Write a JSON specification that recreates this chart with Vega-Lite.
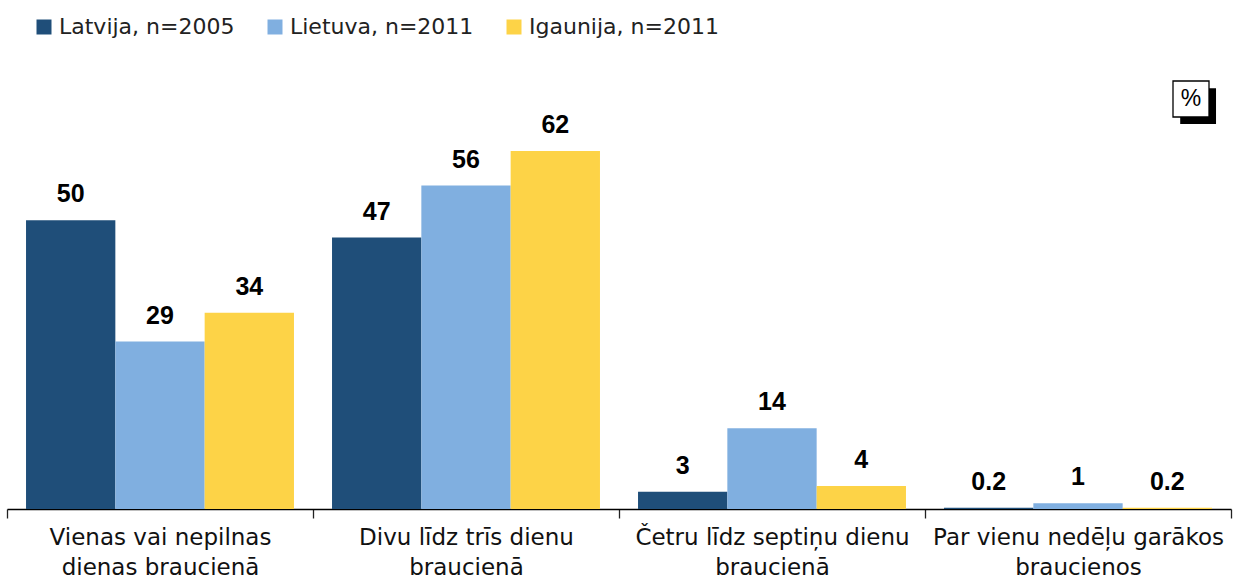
{
  "$schema": "https://vega.github.io/schema/vega-lite/v6.json",
  "width": 1224,
  "height": 462,
  "autosize": {"type": "none"},
  "padding": {"left": 7, "top": 47, "right": 11, "bottom": 73},
  "background": "white",
  "config": {"view": {"stroke": null}, "font": "DejaVu Sans"},
  "datasets": {
    "bars": [
      {"cat": "Vienas vai nepilnas|dienas braucienā", "series": "Latvija, n=2005", "value": 50, "label": "50"},
      {"cat": "Vienas vai nepilnas|dienas braucienā", "series": "Lietuva, n=2011", "value": 29, "label": "29"},
      {"cat": "Vienas vai nepilnas|dienas braucienā", "series": "Igaunija, n=2011", "value": 34, "label": "34"},
      {"cat": "Divu līdz trīs dienu|braucienā", "series": "Latvija, n=2005", "value": 47, "label": "47"},
      {"cat": "Divu līdz trīs dienu|braucienā", "series": "Lietuva, n=2011", "value": 56, "label": "56"},
      {"cat": "Divu līdz trīs dienu|braucienā", "series": "Igaunija, n=2011", "value": 62, "label": "62"},
      {"cat": "Četru līdz septiņu dienu|braucienā", "series": "Latvija, n=2005", "value": 3, "label": "3"},
      {"cat": "Četru līdz septiņu dienu|braucienā", "series": "Lietuva, n=2011", "value": 14, "label": "14"},
      {"cat": "Četru līdz septiņu dienu|braucienā", "series": "Igaunija, n=2011", "value": 4, "label": "4"},
      {"cat": "Par vienu nedēļu garākos|braucienos", "series": "Latvija, n=2005", "value": 0.2, "label": "0.2"},
      {"cat": "Par vienu nedēļu garākos|braucienos", "series": "Lietuva, n=2011", "value": 1, "label": "1"},
      {"cat": "Par vienu nedēļu garākos|braucienos", "series": "Igaunija, n=2011", "value": 0.2, "label": "0.2"}
    ],
    "unit": [
      {"cat": "Par vienu nedēļu garākos|braucienos", "value": 71, "label": "%"}
    ]
  },
  "layer": [
    {
      "data": {"name": "bars"},
      "mark": {"type": "bar"},
      "encoding": {
        "x": {
          "field": "cat", "type": "nominal", "sort": null,
          "scale": {"paddingInner": 0, "paddingOuter": 0},
          "axis": {
            "title": null, "labelAngle": 0,
            "labelExpr": "split(datum.label, '|')",
            "labelFont": "DejaVu Sans",
            "labelFontSize": 23, "labelColor": "#111", "labelLineHeight": 30,
            "labelPadding": 8, "labelBaseline": "top",
            "domainColor": "#000", "domainWidth": 1.3,
            "tickColor": "#222", "tickSize": 9, "tickBand": "extent", "tickWidth": 1.3,
            "labelLimit": 400
          }
        },
        "xOffset": {
          "field": "series", "type": "nominal", "sort": ["Latvija, n=2005", "Lietuva, n=2011", "Igaunija, n=2011"],
          "scale": {"paddingInner": 0, "paddingOuter": 0.213}
        },
        "y": {
          "field": "value", "type": "quantitative",
          "scale": {"domain": [0, 80], "nice": false},
          "axis": null
        },
        "color": {
          "field": "series", "type": "nominal", "sort": ["Latvija, n=2005", "Lietuva, n=2011", "Igaunija, n=2011"],
          "scale": {"range": ["#1F4E79", "#80AFE0", "#FDD347"]},
          "legend": {
            "title": null, "orient": "none", "direction": "horizontal",
            "legendX": 26, "legendY": -31,
            "symbolType": "square", "symbolSize": 225, "symbolStrokeWidth": 0,
            "labelFont": "DejaVu Sans",
            "labelFontSize": 22, "labelColor": "#222", "labelOffset": 4,
            "columnPadding": 29, "labelLimit": 300
          }
        }
      }
    },
    {
      "data": {"name": "bars"},
      "mark": {"type": "text", "baseline": "alphabetic", "dy": -18, "font": "Liberation Sans", "fontSize": 25, "fontWeight": "bold", "color": "#000"},
      "encoding": {
        "x": {"field": "cat", "type": "nominal", "sort": null},
        "xOffset": {"field": "series", "type": "nominal", "sort": ["Latvija, n=2005", "Lietuva, n=2011", "Igaunija, n=2011"]},
        "y": {"field": "value", "type": "quantitative"},
        "text": {"field": "label"}
      }
    },
    {
      "data": {"name": "unit"},
      "mark": {"type": "point", "shape": "M -0.6 -0.6 H 1.39 V 1.39 H -0.6 Z", "filled": true, "color": "#000", "size": 1296, "opacity": 1, "xOffset": 113},
      "encoding": {
        "x": {"field": "cat", "type": "nominal", "sort": null},
        "y": {"field": "value", "type": "quantitative"}
      }
    },
    {
      "data": {"name": "unit"},
      "mark": {"type": "point", "shape": "square", "filled": true, "fill": "white", "stroke": "#000", "strokeWidth": 1.3, "size": 1296, "opacity": 1, "fillOpacity": 1, "xOffset": 113},
      "encoding": {
        "x": {"field": "cat", "type": "nominal", "sort": null},
        "y": {"field": "value", "type": "quantitative"}
      }
    },
    {
      "data": {"name": "unit"},
      "mark": {"type": "text", "font": "Liberation Sans", "fontSize": 23, "color": "#000", "baseline": "middle", "align": "center", "dx": 113},
      "encoding": {
        "x": {"field": "cat", "type": "nominal", "sort": null},
        "y": {"field": "value", "type": "quantitative"},
        "text": {"field": "label"}
      }
    }
  ]
}
